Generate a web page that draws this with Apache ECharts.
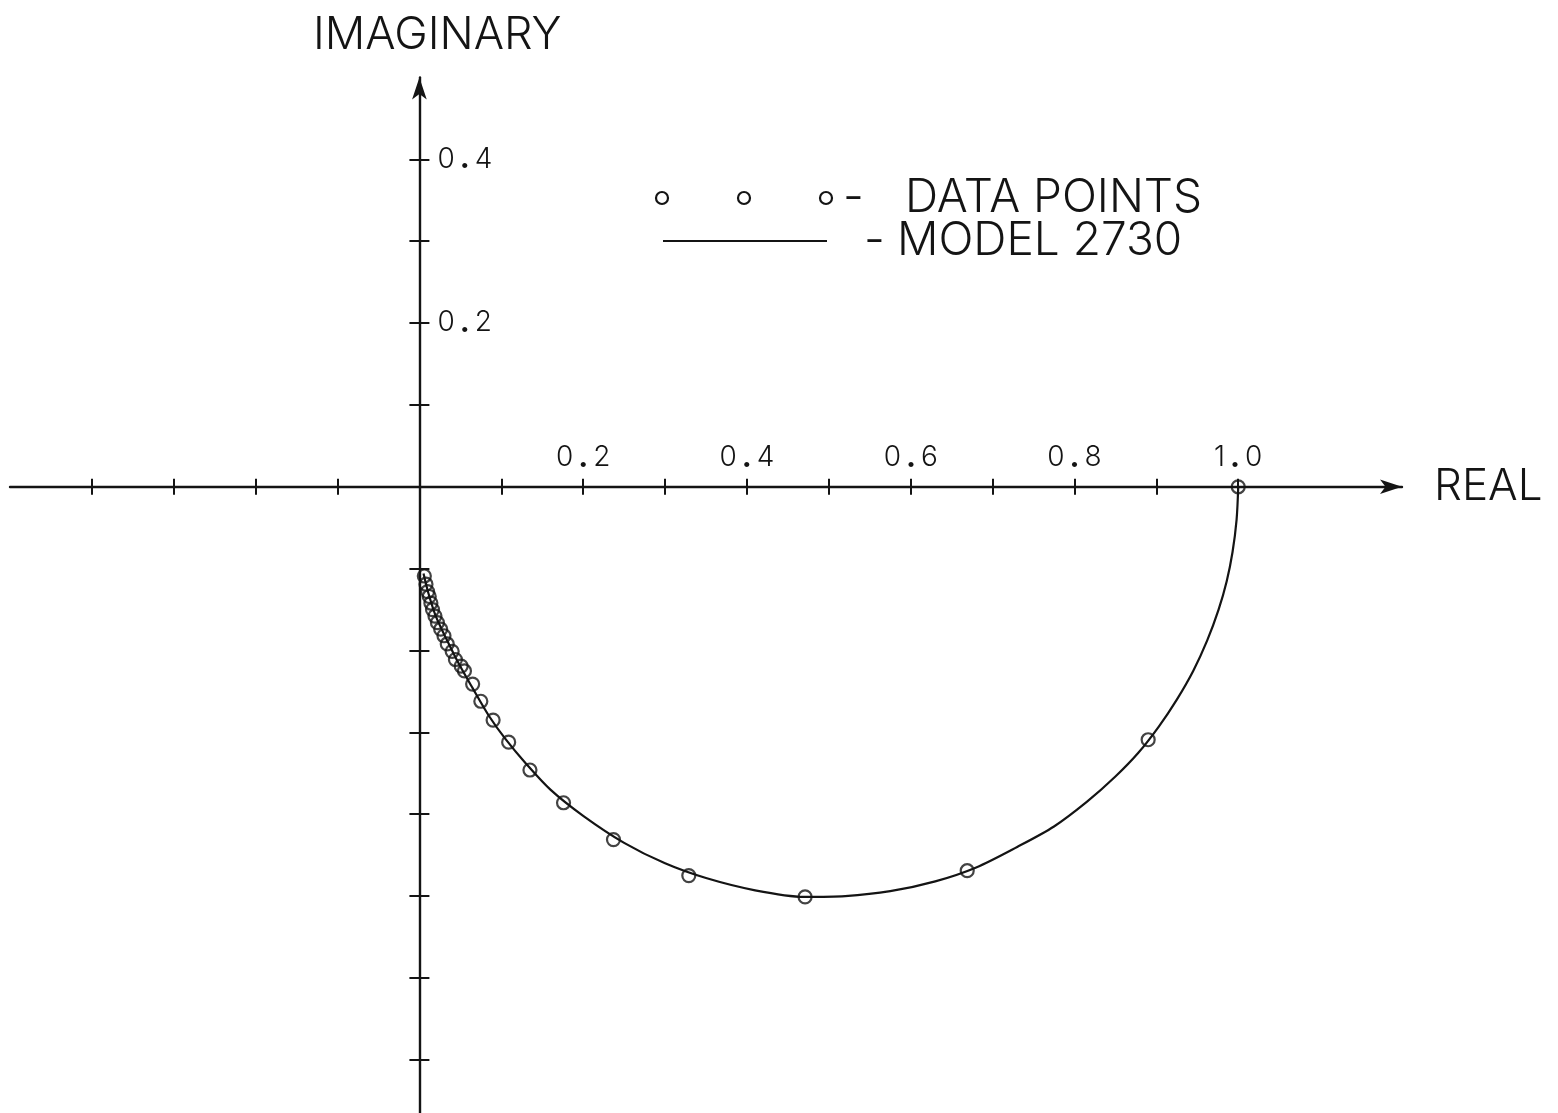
<!DOCTYPE html>
<html>
<head>
<meta charset="utf-8">
<script src="https://cdn.jsdelivr.net/npm/echarts@6/dist/echarts.min.js"></script>
<style>
  html, body { margin: 0; padding: 0; background: #ffffff; }
  #chart { width: 1558px; height: 1113px; }
</style>
</head>
<body>
<div id="chart"></div>
<script>
// Axis ticks and labels (real and imaginary parts)
const realTicks = [-0.4, -0.3, -0.2, -0.1, 0.1, 0.2, 0.3, 0.4, 0.5, 0.6, 0.7, 0.8, 0.9, 1.0];
const realLabels = [0.2, 0.4, 0.6, 0.8, 1.0];
const imagTicks = [0.4, 0.3, 0.2, 0.1, -0.1, -0.2, -0.3, -0.4, -0.5, -0.6, -0.7];
const imagLabels = [0.4, 0.2];

// Measured data points (real, imaginary)
const pointsRe = [1.000, 0.890, 0.669, 0.471, 0.329, 0.237, 0.176, 0.135, 0.109, 0.090,
                  0.075, 0.065, 0.055, 0.051, 0.044, 0.040, 0.034, 0.030, 0.026, 0.022,
                  0.019, 0.016, 0.014, 0.012, 0.010, 0.008, 0.006];
const pointsIm = [0.000, -0.309, -0.469, -0.501, -0.475, -0.431, -0.386, -0.346, -0.312, -0.285,
                  -0.262, -0.241, -0.225, -0.219, -0.211, -0.201, -0.192, -0.182, -0.174, -0.166,
                  -0.158, -0.150, -0.142, -0.134, -0.128, -0.119, -0.109];

// Model 2730 response curve (real, imaginary)
const modelRe = [1.000, 0.998, 0.993, 0.986, 0.976, 0.962, 0.945, 0.925, 0.903, 0.878,
                 0.850, 0.815, 0.775, 0.730, 0.680, 0.630, 0.575, 0.520, 0.470, 0.410,
                 0.350, 0.300, 0.250, 0.200, 0.160, 0.130, 0.105, 0.085, 0.065, 0.048,
                 0.033, 0.020, 0.011, 0.005];
const modelIm = [0.000, -0.040, -0.080, -0.115, -0.150, -0.188, -0.225, -0.260, -0.293, -0.325,
                 -0.354, -0.385, -0.415, -0.440, -0.465, -0.482, -0.494, -0.500, -0.501, -0.493,
                 -0.478, -0.460, -0.435, -0.402, -0.370, -0.338, -0.308, -0.280, -0.246, -0.216,
                 -0.186, -0.158, -0.130, -0.106];

const seriesNames = ['DATA POINTS', 'MODEL 2730'];
const axisNames = ['REAL', 'IMAGINARY'];

const INK = '#141414';
const FONT = "Inter, 'DejaVu Sans', sans-serif";
const GRID = { left: 10, right: 156, top: 77.5, bottom: 0 };
const X_LABEL_GAP = 14;   // label distance above the real axis
const Y_LABEL_GAP = 18;   // label distance right of the imaginary axis

const fmt = v => {
  const parts = v.toFixed(1).split('.');
  return parts[0] + '{d|.}' + parts[1];
};
const labelRich = { d: { fontSize: 30, fontWeight: 'bold', color: INK, padding: [0, 5, 0, 5], fontFamily: FONT } };

const chart = echarts.init(document.getElementById('chart'), null, { renderer: 'canvas' });

// Two axes per direction, both sitting on the origin: one carries the line,
// outer ticks and labels, the other adds the inner half of each tick.
function xAxisDef(inside, main) {
  return {
    type: 'value', min: -0.5, max: 1.2, position: 'bottom',
    name: main ? axisNames[0] : '',
    nameLocation: 'end', nameGap: 32,
    nameTextStyle: { color: INK, fontSize: 44, fontFamily: FONT, fontWeight: 300, verticalAlign: 'middle', padding: [0, 0, 8, 0] },
    axisLine: {
      show: main, onZero: true,
      symbol: ['none', 'arrow'], symbolSize: [11, 22],
      lineStyle: { color: INK, width: 2.4 }
    },
    axisTick: { show: true, inside: inside, length: 8, customValues: realTicks, lineStyle: { color: INK, width: 2 } },
    axisLabel: {
      show: main, inside: true, margin: X_LABEL_GAP, customValues: realLabels,
      color: INK, fontSize: 28, fontFamily: FONT, fontWeight: 300,
      formatter: fmt, rich: labelRich
    },
    splitLine: { show: false }
  };
}

function yAxisDef(inside, main) {
  return {
    type: 'value', min: -0.765, max: 0.5, position: 'left',
    axisLine: {
      show: main, onZero: true,
      symbol: ['none', 'arrow'], symbolSize: [11, 22],
      lineStyle: { color: INK, width: 2.4 }
    },
    axisTick: { show: true, inside: inside, length: 10, customValues: imagTicks, lineStyle: { color: INK, width: 2 } },
    axisLabel: {
      show: main, inside: true, margin: Y_LABEL_GAP, customValues: imagLabels,
      color: INK, fontSize: 28, fontFamily: FONT, fontWeight: 300,
      formatter: fmt, rich: labelRich
    },
    splitLine: { show: false }
  };
}

const legendText = { fill: INK, fontSize: 46, fontFamily: FONT, fontWeight: 300, verticalAlign: 'middle' };
const legendRing = { fill: 'none', stroke: INK, lineWidth: 2.2 };

chart.setOption({
  backgroundColor: '#ffffff',
  animation: false,
  grid: Object.assign({ containLabel: false, outerBoundsMode: 'none' }, GRID),
  xAxis: [xAxisDef(false, true), xAxisDef(true, false)],
  yAxis: [yAxisDef(false, true), yAxisDef(true, false)],
  series: [
    {
      name: seriesNames[1], type: 'line', xAxisIndex: 0, yAxisIndex: 0,
      data: modelRe.map((x, i) => [x, modelIm[i]]),
      showSymbol: false, smooth: 0.3,
      lineStyle: { color: INK, width: 2.2 }, z: 2
    },
    {
      name: seriesNames[0], type: 'scatter', xAxisIndex: 0, yAxisIndex: 0,
      data: pointsRe.map((x, i) => [x, pointsIm[i]]),
      symbol: 'circle', symbolSize: 13,
      itemStyle: { color: 'rgba(0,0,0,0)', borderColor: INK, borderWidth: 2.2 }, z: 3
    }
  ],
  graphic: [
    { type: 'text', left: 313, top: 13, style: { text: axisNames[1], fill: INK, fontSize: 45, fontFamily: FONT, fontWeight: 300 } },
    { type: 'circle', shape: { cx: 662, cy: 198, r: 6 }, style: legendRing },
    { type: 'circle', shape: { cx: 744, cy: 198, r: 6 }, style: legendRing },
    { type: 'circle', shape: { cx: 826, cy: 198, r: 6 }, style: legendRing },
    { type: 'text', x: 843, y: 198, style: Object.assign({ text: '-' }, legendText) },
    { type: 'text', x: 905, y: 198, style: Object.assign({ text: seriesNames[0] }, legendText) },
    { type: 'line', shape: { x1: 663, y1: 241, x2: 827, y2: 241 }, style: { stroke: INK, lineWidth: 2.2 } },
    { type: 'text', x: 864, y: 241, style: Object.assign({ text: '-' }, legendText) },
    { type: 'text', x: 897, y: 241, style: Object.assign({ text: seriesNames[1] }, legendText) }
  ]
});

// With onZero the tick labels stay at the grid edge, so widen their margin
// by the distance from that edge to the origin.
const origin = chart.convertToPixel({ gridIndex: 0 }, [0, 0]);
const bottomEdge = chart.getHeight() - GRID.bottom;
chart.setOption({
  xAxis: [{ axisLabel: { margin: (bottomEdge - origin[1]) + X_LABEL_GAP } }],
  yAxis: [{ axisLabel: { margin: (origin[0] - GRID.left) + Y_LABEL_GAP } }]
});
</script>
</body>
</html>
